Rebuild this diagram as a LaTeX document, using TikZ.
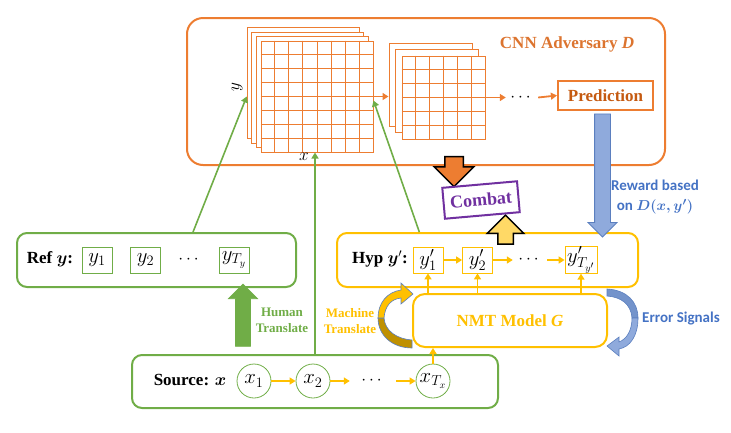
\documentclass[tikz,border=0pt]{standalone}
\usepackage{amsmath}
\usepackage{fontspec}
\setmainfont{Liberation Serif}
\newfontfamily\calibfont{Carlito}
\usetikzlibrary{arrows.meta,positioning,calc,shapes.arrows}
\definecolor{AdvOrange}{HTML}{ED7D31}
\definecolor{AdvText}{HTML}{DC742F}
\definecolor{PredText}{HTML}{C55A11}
\definecolor{RefGreen}{HTML}{70AD47}
\definecolor{HypGold}{HTML}{FFC000}
\definecolor{DarkGold}{HTML}{BF9000}
\definecolor{LightGold}{HTML}{FFD966}
\definecolor{SigBlue}{HTML}{8FAADC}
\definecolor{SigDark}{HTML}{7393CB}
\definecolor{SigEdge}{HTML}{5B7FBF}
\definecolor{SigText}{HTML}{4472C4}
\definecolor{CombatPurple}{HTML}{7030A0}

\begin{document}
\begin{tikzpicture}[
  x=1pt, y=-1pt,
  >={Triangle[length=6pt,width=7pt]},
  % group frame (ref / hyp / source / nmt)
  grpbox/.style={draw, rounded corners=10pt, line width=2pt, inner sep=0pt,
                 minimum height=54pt},
  % bold serif label
  lbl/.style={font=\fontsize{17}{19}\selectfont\bfseries, inner sep=0pt},
  % small two-line label
  txtH/.style={font=\fontsize{13}{16}\selectfont\bfseries, align=center, inner sep=0pt},
  % sans label (blue)
  sansL/.style={font=\calibfont\fontsize{15}{20}\selectfont\bfseries,
                text=SigText, align=center, inner sep=0pt},
  % token box
  tok/.style={draw, line width=0.8pt, minimum width=30pt, minimum height=26pt,
              inner sep=0pt, font=\fontsize{20}{22}\selectfont},
  % source token circle
  srctok/.style={draw=RefGreen, circle, line width=0.8pt, minimum size=34pt,
                 inner sep=0pt, font=\fontsize{20}{22}\selectfont},
  % feature map sheet
  sheet/.style={draw=AdvOrange, fill=white, line width=1pt, inner sep=0pt},
  gridln/.style={AdvOrange, line width=1pt},
  % arrows
  flow/.style={->, HypGold, line width=1.6pt},
  cnnflow/.style={->, AdvOrange, line width=1.8pt},
  feed/.style={->, RefGreen, line width=1.6pt},
  blockarr/.style={single arrow, single arrow tip angle=90, inner xsep=0pt,
                   minimum width=0pt},
]
\useasboundingbox (0,0) rectangle (731,432);

% ── Sheet centres ─────────────────────────────────────────────────────────
\def\gAx{317}   % first conv stack, front sheet
\def\gAy{96.5}
\def\gBx{443.5} % second conv stack, front sheet
\def\gBy{97.5}

%% ── CNN adversary frame ───────────────────────────────────────────────────
\node[draw=AdvOrange, rounded corners=16pt, line width=2pt,
      minimum width=478pt, minimum height=147pt] (adv) at (426,91.5) {};
\node[lbl, text=AdvText] (advlbl) at (567,44) {CNN Adversary \textit{D}};

%% ── First stack (8 x 8) ───────────────────────────────────────────────────
\foreach \k in {3,2,1}
  \node[sheet, minimum width=112pt, minimum height=111pt]
    (gA\k) at (\gAx-4.6*\k, \gAy-4.5*\k) {};
\node[sheet, minimum width=112pt, minimum height=111pt] (gA) at (\gAx,\gAy) {};
\foreach \i in {1,...,7}{
  \draw[gridln] ($(gA.north west)!\i/8!(gA.north east)$) -- ($(gA.south west)!\i/8!(gA.south east)$);
  \draw[gridln] ($(gA.north west)!\i/8!(gA.south west)$) -- ($(gA.north east)!\i/8!(gA.south east)$);
}
\node[font=\fontsize{18}{20}\selectfont, rotate=90, inner sep=0pt] (ylab) at (237,87) {$y$};
\node[font=\fontsize{18}{20}\selectfont, inner sep=0pt] (xlab) at (304,157) {$x$};

%% ── Second stack (6 x 6) ──────────────────────────────────────────────────
\foreach \k in {2,1}
  \node[sheet, minimum width=83pt, minimum height=83pt]
    (gB\k) at (\gBx-6.5*\k, \gBy-6.5*\k) {};
\node[sheet, minimum width=83pt, minimum height=83pt] (gB) at (\gBx,\gBy) {};
\foreach \i in {1,...,5}{
  \draw[gridln] ($(gB.north west)!\i/6!(gB.north east)$) -- ($(gB.south west)!\i/6!(gB.south east)$);
  \draw[gridln] ($(gB.north west)!\i/6!(gB.south west)$) -- ($(gB.north east)!\i/6!(gB.south east)$);
}

%% ── Prediction chain ──────────────────────────────────────────────────────
\node[draw=AdvOrange, line width=2.2pt, minimum width=95pt, minimum height=29pt,
      lbl, text=PredText] (pred) at (605.5,95.5) {Prediction};
\node[minimum width=32pt, inner sep=0pt, font=\fontsize{17}{19}\selectfont] (cdots) at (522,97.5) {$\cdots$};
\draw[cnnflow] (gA.east) -- (gA.east -| gB2.west);
\draw[cnnflow] (gB.east) -- (cdots.west);
\draw[cnnflow] (cdots.east) -- (pred.west);

%% ── Group boxes ───────────────────────────────────────────────────────────
\node[grpbox, draw=RefGreen, minimum width=279pt] (ref) at (156.5,260) {};
\node[grpbox, draw=HypGold, minimum width=301pt] (hyp) at (487.5,260) {};
\node[grpbox, draw=RefGreen, minimum width=366pt, minimum height=53pt] (src) at (315,381.5) {};
\node[grpbox, draw=HypGold, rounded corners=12pt, minimum width=194pt,
      minimum height=53pt, lbl, text=HypGold] (nmt) at (510,320.5) {NMT Model \textit{G}};

%% ── Reference tokens ──────────────────────────────────────────────────────
\node[lbl] (reflbl) at (50,259) {Ref $\boldsymbol{y}$:};
\node[tok, draw=RefGreen] (ry1) at (97,260) {$y_1$};
\node[tok, draw=RefGreen] (ry2) at (145.5,260) {$y_2$};
\node[inner sep=0pt, font=\fontsize{17}{19}\selectfont] (rdots) at (190,260) {$\cdots$};
\node[tok, draw=RefGreen] (ryT) at (234,260) {$y_{T_y}$};

%% ── Hypothesis tokens ─────────────────────────────────────────────────────
\node[lbl] (hyplbl) at (380,259) {Hyp $\boldsymbol{y}'$:};
\node[tok, draw=HypGold] (hy1) at (428,260) {$y'_1$};
\node[tok, draw=HypGold] (hy2) at (477.5,260) {$y'_2$};
\node[minimum width=34pt, inner sep=0pt, font=\fontsize{17}{19}\selectfont] (hdots) at (530,260) {$\cdots$};
\node[tok, draw=HypGold, minimum width=32pt] (hyT) at (581,260) {$y'_{T_{y'}}$};
\draw[flow] (hy1) -- (hy2);
\draw[flow] (hy2.east) -- (hdots.west);
\draw[flow] (hdots.east) -- (hyT.west);
\foreach \t in {hy1,hy2,hyT}
  \draw[flow] (\t.south |- nmt.north) -- (\t.south);

%% ── Source tokens ─────────────────────────────────────────────────────────
\node[lbl] (srclbl) at (190,380) {Source: $\boldsymbol{x}$};
\node[srctok] (sx1) at (254,381) {$x_1$};
\node[srctok] (sx2) at (313,381) {$x_2$};
\node[minimum width=46pt, inner sep=0pt, font=\fontsize{17}{19}\selectfont] (sdots) at (373,381) {$\cdots$};
\node[srctok] (sxT) at (433,381) {$x_{T_x}$};
\draw[flow] (sx1) -- (sx2);
\draw[flow] (sx2) -- (sdots.west);
\draw[flow] (sdots.east) -- (sxT);
\draw[flow] (sxT.north) -- (sxT.north |- nmt.south);

%% ── Inputs to the CNN ─────────────────────────────────────────────────────
\draw[feed] ($(ref.north west)!0.63!(ref.north east)$) -- (gA.west -| gA3.west);
\draw[feed] (src.north) -- (src.north |- gA.south);
\draw[feed] ($(hyp.north west)!0.275!(hyp.north east)$) -- ([yshift=-4pt]gA.east);

%% ── Block arrows ──────────────────────────────────────────────────────────
\node[blockarr, fill=AdvOrange, draw=black, line width=1.5pt, rotate=-90,
      minimum height=30pt, inner ysep=8.5pt, single arrow head extend=10.5pt] (advdown) at (454,167) {};
\node[blockarr, fill=LightGold, draw=black, line width=1.5pt, rotate=90,
      minimum height=29pt, inner ysep=7pt, single arrow head extend=10.5pt] (hypup) at (505.5,233.5) {};
\node[blockarr, fill=SigBlue, draw=SigEdge, line width=0.8pt, rotate=-90,
      minimum height=123pt, inner ysep=7.5pt, single arrow head extend=6.5pt] (reward) at (602.5,171.5) {};
\node[blockarr, fill=RefGreen, draw=RefGreen, line width=0.8pt, rotate=90,
      minimum height=62pt, inner ysep=7pt, single arrow head extend=7pt] (human) at (243,319) {};

%% ── Combat ────────────────────────────────────────────────────────────────
\node[draw=CombatPurple, line width=2pt, rotate=5, minimum width=75pt,
      minimum height=31pt, inner sep=0pt, text=CombatPurple,
      font=\fontsize{18}{20}\selectfont\bfseries] (combat) at (481,200) {Combat};

%% ── Curved arrows round the NMT model ─────────────────────────────────────
% machine translate (left)
\draw[fill=DarkGold, draw=SigEdge, line width=0.6pt]
  (378,318) .. controls (378,336) and (393,348) .. (412,348) -- (412,340)
  .. controls (397,339) and (385,331) .. (384,318) -- cycle;
\draw[fill=HypGold, draw=SigEdge, line width=0.6pt]
  (384,318) .. controls (385,306) and (391,299) .. (401,298) -- (401,304)
  -- (413,294) -- (401,283) -- (401,290)
  .. controls (387,292) and (378,303) .. (378,318) -- cycle;
% error signals (right)
\draw[fill=SigDark, draw=SigEdge, line width=0.6pt]
  (632,318) .. controls (631,304) and (621,297) .. (607,296) -- (607,289)
  .. controls (627,290) and (638,302) .. (638,318) -- cycle;
\draw[fill=SigBlue, draw=SigEdge, line width=0.6pt]
  (638,318) .. controls (638,336) and (630,347) .. (619,349) -- (619,356)
  -- (607,346) -- (619,337) -- (619,342)
  .. controls (627,339) and (632,330) .. (632,318) -- cycle;

%% ── Side labels ───────────────────────────────────────────────────────────
\node[txtH, text=RefGreen] (humlbl) at (282,320) {Human\\Translate};
\node[txtH, text=HypGold] (maclbl) at (350,321) {Machine\\Translate};
\node[sansL] (rwdlbl) at (655,197) {Reward based\\on $\boldsymbol{D(x,y')}$};
\node[sansL] (errlbl) at (681,319) {Error Signals};

\end{tikzpicture}
\end{document}
